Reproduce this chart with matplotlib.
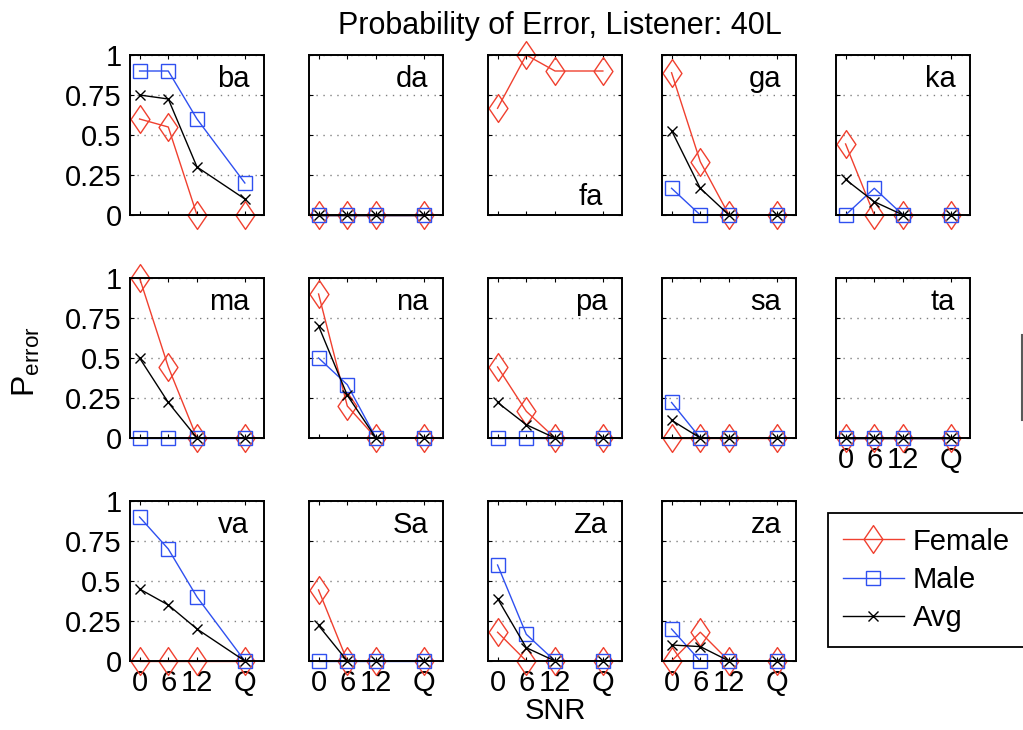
import numpy as np
import matplotlib
matplotlib.use('Agg')
import matplotlib.pyplot as plt
from matplotlib.path import Path
from matplotlib.lines import Line2D

plt.rcParams['font.family'] = ['Liberation Sans', 'DejaVu Sans']
plt.rcParams['mathtext.fontset'] = 'custom'
plt.rcParams['mathtext.rm'] = 'Liberation Sans'

# SNR conditions (Q = quiet) and where they sit on the x axis
snr_labels = ['0', '6', '12', 'Q']
snr_pos = [0, 6, 12, 22]

syllables = ['ba', 'da', 'fa', 'ga', 'ka',
             'ma', 'na', 'pa', 'sa', 'ta',
             'va', 'Sa', 'Za', 'za']

nan = np.nan
female = [[0.6, 0.55, 0, 0], [0, 0, 0, 0], [0.667, 1.0, 0.9, 0.9],
          [0.889, 0.333, 0, 0], [0.444, 0, 0, 0],
          [1.0, 0.444, 0, 0], [0.9, 0.2, 0, 0], [0.444, 0.167, 0, 0],
          [0, 0, 0, 0], [0, 0, 0, 0],
          [0, 0, 0, 0], [0.444, 0, 0, 0], [0.18, 0, 0, 0], [0, 0.18, 0, 0]]
male = [[0.9, 0.9, 0.6, 0.2], [0, 0, 0, 0], [nan, nan, nan, nan],
        [0.167, 0, 0, 0], [0, 0.167, 0, 0],
        [0, 0, 0, 0], [0.5, 0.333, 0, 0], [0, 0, 0, 0],
        [0.222, 0, 0, 0], [0, 0, 0, 0],
        [0.9, 0.7, 0.4, 0], [0, 0, 0, 0], [0.6, 0.167, 0, 0], [0.2, 0, 0, 0]]
avg = [[0.75, 0.725, 0.3, 0.1], [0, 0, 0, 0], [nan, nan, nan, nan],
       [0.528, 0.167, 0, 0], [0.222, 0.083, 0, 0],
       [0.5, 0.222, 0, 0], [0.7, 0.267, 0, 0], [0.222, 0.083, 0, 0],
       [0.111, 0, 0, 0], [0, 0, 0, 0],
       [0.45, 0.35, 0.2, 0], [0.222, 0, 0, 0], [0.39, 0.083, 0, 0], [0.1, 0.09, 0, 0]]

yticks = [0, 0.25, 0.5, 0.75, 1]
ytick_labels = ['0', '0.25', '0.5', '0.75', '1']

RED = '#f0402f'
BLUE = '#2f50f0'

# tall diamond like the MATLAB one
diamond = Path([(0, 1), (0.68, 0), (0, -1), (-0.68, 0), (0, 1)],
               [Path.MOVETO, Path.LINETO, Path.LINETO, Path.LINETO, Path.CLOSEPOLY])

W, H = 1023, 730
fig = plt.figure(figsize=(W / 100, H / 100), dpi=100)

col_left = [130, 309, 488, 662, 836]
row_top = [55, 278, 501]
ax_w, ax_h = 134, 160

handles = None
for i, name in enumerate(syllables):
    r, c = divmod(i, 5)
    ax = fig.add_axes([col_left[c] / W, 1 - (row_top[r] + ax_h) / H, ax_w / W, ax_h / H])

    hf, = ax.plot(snr_pos, female[i], color=RED, lw=1.0, marker=diamond, ms=20,
                  mfc='none', mec=RED, mew=1.0, clip_on=False, label='Female')
    hm, = ax.plot(snr_pos, male[i], color=BLUE, lw=1.0, marker='s', ms=10,
                  mfc='none', mec=BLUE, mew=1.0, clip_on=False, label='Male')
    ha, = ax.plot(snr_pos, avg[i], color='black', lw=1.0, marker='x', ms=7,
                  mew=1.0, clip_on=False, label='Avg')
    handles = [hf, hm, ha]

    ax.set_xlim(-2, 26)
    ax.set_ylim(0, 1)
    ax.set_xticks(snr_pos)
    ax.set_yticks(yticks)
    ax.yaxis.grid(True, linestyle=(0, (1, 4)), color='0.5', lw=1.0)
    ax.tick_params(direction='in', length=3, width=0.8, top=True, right=True,
                   labelsize=21, pad=6)
    for sp in ax.spines.values():
        sp.set_linewidth(1.4)

    if c == 0:
        ax.set_yticklabels(ytick_labels)
    else:
        ax.set_yticklabels([])
    if r == 2 or name == 'ta':
        ax.set_xticklabels(snr_labels)
    else:
        ax.set_xticklabels([])

    if name == 'fa':
        ax.text(0.86, 0.06, name, transform=ax.transAxes, ha='right',
                va='baseline', fontsize=21)
    else:
        ax.text(0.89, 0.80, name, transform=ax.transAxes, ha='right',
                va='baseline', fontsize=21)

    if name == 'Za':
        ax.set_xlabel('SNR', fontsize=21, labelpad=0)

fig.text(560 / W, 1 - 26 / H, 'Probability of Error, Listener: 40L',
         ha='center', va='center', fontsize=22)
fig.text(26 / W, 1 - 362 / H, r'$\mathrm{P}_{\mathrm{error}}$', rotation=90,
         ha='center', va='center', fontsize=23)

fig.legend(handles, ['Female', 'Male', 'Avg'], loc='upper left',
           bbox_to_anchor=(828 / W, 1 - 513 / H), fontsize=21, frameon=True,
           fancybox=False, edgecolor='black', framealpha=1, borderpad=0.5,
           labelspacing=0.35, handlelength=2.1, handletextpad=0.3,
           borderaxespad=0, handleheight=0.7)
fig.legends[0].get_frame().set_linewidth(1.3)

fig.add_artist(Line2D([1021.5 / W] * 2, [1 - 335 / H, 1 - 420 / H],
                      color='0.35', lw=1.5))

fig.savefig('out.png', dpi=100)
